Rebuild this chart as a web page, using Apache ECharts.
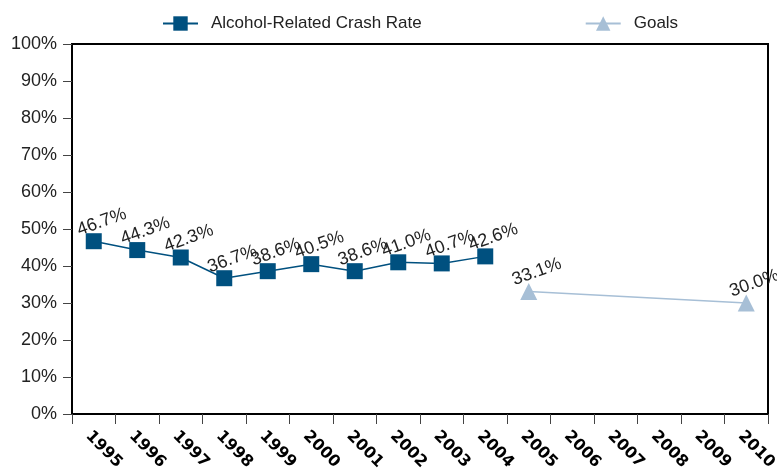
<!DOCTYPE html>
<html>
<head>
<meta charset="utf-8">
<script src="https://cdn.jsdelivr.net/npm/echarts@6/dist/echarts.min.js"></script>
<style>
  html, body { margin: 0; padding: 0; background: #fff; }
  #chart { width: 777px; height: 472px; }
</style>
</head>
<body>
<div id="chart"></div>
<script>
const years = ['1995', '1996', '1997', '1998', '1999', '2000', '2001', '2002',
  '2003', '2004', '2005', '2006', '2007', '2008', '2009', '2010'];
const crashRate = [46.7, 44.3, 42.3, 36.7, 38.6, 40.5, 38.6, 41.0, 40.7, 42.6,
  null, null, null, null, null, null];
const goals = [null, null, null, null, null, null, null, null, null, null,
  33.1, null, null, null, null, 30.0];

const chart = echarts.init(document.getElementById('chart'));
const font = 'Liberation Sans';

const pctLabel = {
  show: true,
  position: 'top',
  distance: 4,
  offset: [10, 5],
  rotate: 20,
  color: '#222',
  fontFamily: font,
  fontSize: 18,
  formatter: (p) => p.value.toFixed(1) + '%'
};

chart.setOption({
  animation: false,
  textStyle: { fontFamily: font },
  legend: {
    top: 10,
    left: 157,
    itemWidth: 35,
    itemHeight: 18,
    itemGap: 163,
    textStyle: { fontFamily: font, fontSize: 17, color: '#222', padding: [0, 0, 0, 8] },
    data: ['Alcohol-Related Crash Rate', 'Goals']
  },
  grid: {
    left: 72,
    right: 9,
    top: 44,
    bottom: 58,
    outerBoundsMode: 'none',
    show: true,
    borderColor: '#000',
    borderWidth: 2
  },
  xAxis: {
    type: 'category',
    data: years,
    boundaryGap: true,
    axisLine: { lineStyle: { color: '#000', width: 2 } },
    axisTick: { show: true, length: 10, lineStyle: { color: '#444' } },
    axisLabel: {
      rotate: -45,
      margin: 14,
      align: 'left',
      verticalAlign: 'top',
      color: '#000',
      fontWeight: 'bold',
      fontSize: 16,
      fontFamily: 'DejaVu Sans'
    }
  },
  yAxis: {
    type: 'value',
    min: 0,
    max: 100,
    interval: 10,
    splitLine: { show: false },
    axisLine: { show: true, lineStyle: { color: '#000', width: 2 } },
    axisTick: { show: true, length: 9, lineStyle: { color: '#444' } },
    axisLabel: {
      formatter: '{value}%',
      color: '#222',
      fontSize: 18,
      margin: 15,
      fontFamily: font
    }
  },
  series: [
    {
      name: 'Alcohol-Related Crash Rate',
      type: 'line',
      data: crashRate,
      symbol: 'rect',
      symbolSize: 16,
      itemStyle: { color: '#00507f' },
      lineStyle: { color: '#00507f', width: 1.5 },
      label: pctLabel
    },
    {
      name: 'Goals',
      type: 'line',
      data: goals,
      connectNulls: true,
      symbol: 'triangle',
      symbolSize: 17,
      itemStyle: { color: '#a7bfd6' },
      lineStyle: { color: '#a7bfd6', width: 1.5 },
      label: pctLabel
    }
  ]
});
</script>
</body>
</html>
